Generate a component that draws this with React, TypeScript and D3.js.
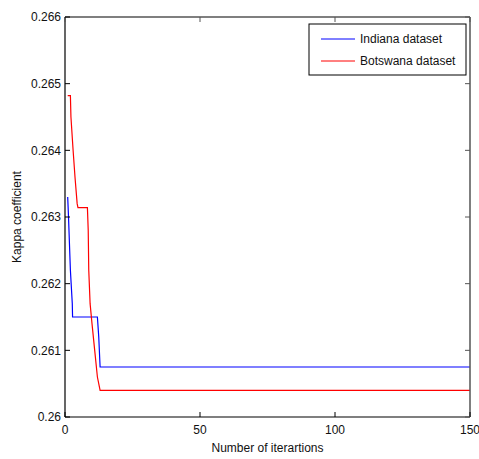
import React from "react";
import * as d3 from "d3";

const xTicks = [0, 50, 100, 150];
const yTicks = [0.26, 0.261, 0.262, 0.263, 0.264, 0.265, 0.266];
const yTickLabels = ["0.26", "0.261", "0.262", "0.263", "0.264", "0.265", "0.266"];

const indianaIter = [1, 1.3, 2, 2.7, 2.8, 12, 12.5, 13, 150];
const indianaKappa = [0.2633, 0.263, 0.2622, 0.2617, 0.2615, 0.2615, 0.2612, 0.26075, 0.26075];

const botswanaIter = [1, 2, 2.2, 3, 3.7, 4.5, 4.8, 8.3, 8.6, 8.8, 9.3, 10, 11, 12, 13, 150];
const botswanaKappa = [0.26482, 0.26482, 0.2645, 0.264, 0.2636, 0.2632, 0.26314, 0.26314, 0.2628, 0.2622, 0.2617, 0.2614, 0.261, 0.2606, 0.2604, 0.2604];

const width = 479;
const height = 459;
const margin = { top: 17, right: 9, bottom: 42, left: 65 };
const font = "Arial, 'Liberation Sans', sans-serif";

export default function App() {
  const innerWidth = width - margin.left - margin.right;
  const innerHeight = height - margin.top - margin.bottom;

  const xScale = d3.scaleLinear().domain([0, 150]).range([0, innerWidth]);
  const yScale = d3.scaleLinear().domain([0.26, 0.266]).range([innerHeight, 0]);

  const line = d3
    .line<[number, number]>()
    .x((d) => xScale(d[0]))
    .y((d) => yScale(d[1]));

  const indiana = indianaIter.map((x, i) => [x, indianaKappa[i]] as [number, number]);
  const botswana = botswanaIter.map((x, i) => [x, botswanaKappa[i]] as [number, number]);

  return (
    <svg
      width={width}
      height={height}
      style={{ position: "absolute", left: 0, top: 0, background: "#fff" }}
      fontFamily={font}
    >
      <g transform={`translate(${margin.left},${margin.top})`}>
        <path d={line(indiana) ?? ""} fill="none" stroke="#0000ff" strokeWidth={1.2} />
        <path d={line(botswana) ?? ""} fill="none" stroke="#ff0000" strokeWidth={1.2} />

        {/* axes box */}
        <line x1={0} y1={0} x2={innerWidth} y2={0} stroke="#555" strokeWidth={1.5} />
        <line x1={innerWidth} y1={0} x2={innerWidth} y2={innerHeight} stroke="#555" strokeWidth={1.5} />
        <line x1={0} y1={0} x2={0} y2={innerHeight} stroke="#000" strokeWidth={1.2} />
        <line x1={0} y1={innerHeight} x2={innerWidth} y2={innerHeight} stroke="#000" strokeWidth={1.2} />

        {xTicks.map((t) => (
          <g key={t} transform={`translate(${xScale(t)},0)`}>
            <line y1={innerHeight} y2={innerHeight - 5} stroke="#000" />
            <line y1={0} y2={5} stroke="#555" />
            <text y={innerHeight + 17} textAnchor="middle" fontSize={12} fill="#111">
              {t}
            </text>
          </g>
        ))}

        {yTicks.map((t, i) => (
          <g key={t} transform={`translate(0,${yScale(t)})`}>
            <line x1={0} x2={5} stroke="#000" />
            <line x1={innerWidth} x2={innerWidth - 5} stroke="#555" />
            <text x={-4} dy="0.35em" textAnchor="end" fontSize={12} fill="#111">
              {yTickLabels[i]}
            </text>
          </g>
        ))}

        {/* legend */}
        <g transform={`translate(${309 - margin.left},${24 - margin.top})`}>
          <rect width={157} height={51} fill="#fff" stroke="#000" />
          <line x1={12} x2={46} y1={15} y2={15} stroke="#0000ff" />
          <text x={51} y={15} dy="0.35em" fontSize={12} fill="#111">
            Indiana dataset
          </text>
          <line x1={12} x2={46} y1={37} y2={37} stroke="#ff0000" />
          <text x={51} y={37} dy="0.35em" fontSize={12} fill="#111">
            Botswana dataset
          </text>
        </g>
      </g>

      <text x={margin.left + innerWidth / 2} y={452} textAnchor="middle" fontSize={12} fill="#111">
        Number of iterartions
      </text>
      <text
        transform={`translate(21,${margin.top + innerHeight / 2}) rotate(-90)`}
        textAnchor="middle"
        fontSize={12}
        fill="#111"
      >
        Kappa coefficient
      </text>
    </svg>
  );
}
